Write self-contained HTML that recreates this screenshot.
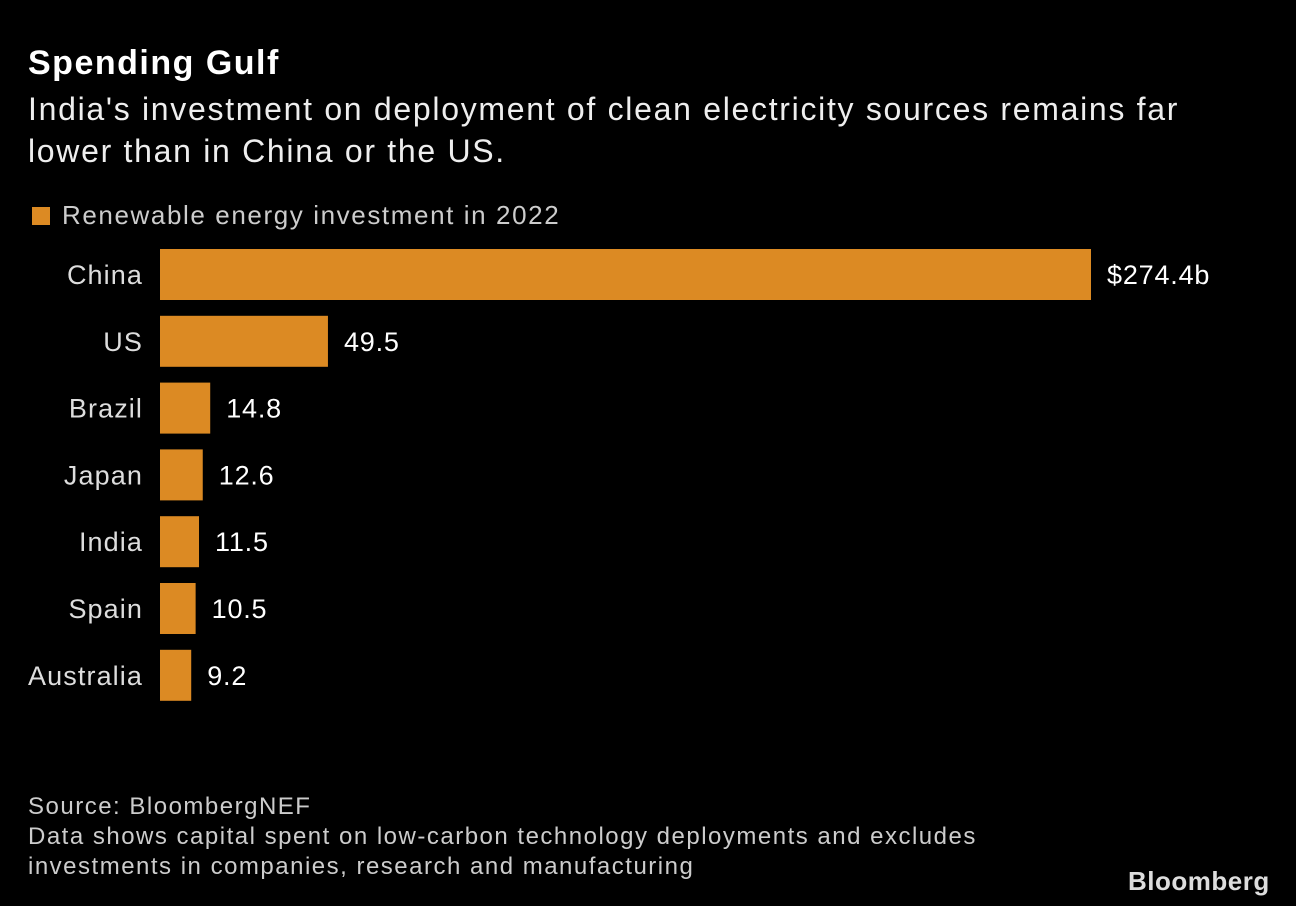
<!DOCTYPE html>
<html><head><meta charset="utf-8"><style>
body{margin:0;width:1296px;height:906px;background:#000;color:#fff;font-family:"Liberation Sans",sans-serif;overflow:hidden;position:relative}
.t{position:absolute;white-space:nowrap}
</style></head><body>
<div class="t" style="left:28px;top:44px;font-size:34px;font-weight:bold;letter-spacing:1.5px">Spending Gulf</div>
<div class="t" style="left:28px;top:88px;font-size:32px;line-height:42px;color:#eee;letter-spacing:1.7px">India's investment on deployment of clean electricity sources remains far<br>lower than in China or the US.</div>
<div class="t" style="left:32px;top:200px;font-size:26px;color:#ccc;letter-spacing:1.6px"><span style="display:inline-block;width:18px;height:18px;background:#dc8a23;margin-right:12px;vertical-align:-1px"></span>Renewable energy investment in 2022</div>
<svg id="c" width="1296" height="906" style="position:absolute;left:0;top:0"></svg>
<div class="t" style="left:28px;top:792px;font-size:24px;line-height:30px;color:#ccc;letter-spacing:1.5px">Source: BloombergNEF<br>Data shows capital spent on low-carbon technology deployments and excludes<br>investments in companies, research and manufacturing</div>
<div class="t" style="left:1128px;top:866px;font-size:26px;font-weight:bold;color:#ddd;letter-spacing:0.5px">Bloomberg</div>
<script>
const categories=["China","US","Brazil","Japan","India","Spain","Australia"];
const values=[274.4,49.5,14.8,12.6,11.5,10.5,9.2];
const labels=["$274.4b","49.5","14.8","12.6","11.5","10.5","9.2"];
const svg=document.getElementById('c');const NS='http://www.w3.org/2000/svg';
const x0=160,scale=931/274.4;
function xs(v){return v*scale;}
function yb(i){return 249+i*66.8;}
categories.forEach((c,i)=>{
 const r=document.createElementNS(NS,'rect');
 r.setAttribute('x',x0);r.setAttribute('y',yb(i));r.setAttribute('width',xs(values[i]));r.setAttribute('height',51);r.setAttribute('fill','#dc8a23');
 
 
 svg.appendChild(r);
 const t=document.createElementNS(NS,'text');
 t.setAttribute('x',143);t.setAttribute('y',yb(i)+35);t.setAttribute('text-anchor','end');t.setAttribute('fill','#ddd');t.setAttribute('font-size','27');t.setAttribute('letter-spacing','1.1');t.setAttribute('font-family','Liberation Sans, sans-serif');t.textContent=c;
 
 
 svg.appendChild(t);
 const v=document.createElementNS(NS,'text');
 v.setAttribute('x',x0+xs(values[i])+16);v.setAttribute('y',yb(i)+35);v.setAttribute('fill','#fff');v.setAttribute('font-size','27');v.setAttribute('letter-spacing','0.8');v.setAttribute('font-family','Liberation Sans, sans-serif');v.textContent=labels[i];
 
 
 svg.appendChild(v);
});
</script>
</body></html>
